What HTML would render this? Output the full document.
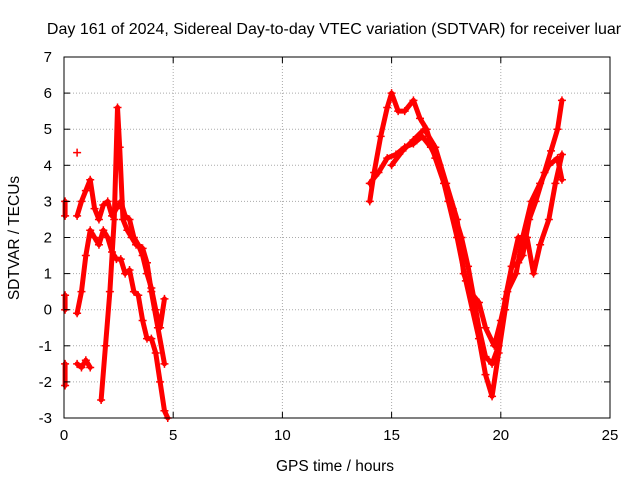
<!DOCTYPE html>
<html><head><meta charset="utf-8"><style>
body{margin:0;background:#fff}
svg{display:block;font-family:"Liberation Sans",sans-serif}
</style></head><body>
<svg id="chart" width="640" height="480">
<text x="334" y="34" text-anchor="middle" font-size="16">Day 161 of 2024, Sidereal Day-to-day VTEC variation (SDTVAR) for receiver luar</text>
<text x="335" y="471" text-anchor="middle" font-size="15.5">GPS time / hours</text>
<text transform="translate(19,238) rotate(-90)" text-anchor="middle" font-size="15.5">SDTVAR / TECUs</text>
<g id="grid"></g><g id="series"></g><g id="axes"></g>
</svg>
<script>
const xTicks=[0,5,10,15,20,25];
const yTicks=[-3,-2,-1,0,1,2,3,4,5,6,7];
const traceA=[[0.6,2.6],[0.8,3.0],[1.0,3.3],[1.2,3.6],[1.4,2.8],[1.6,2.5],[1.8,2.9],[2.0,3.0],[2.2,2.6],[2.4,2.8],[2.6,3.0],[2.8,2.6],[3.0,2.5],[3.2,2.0],[3.4,1.8],[3.6,1.5],[3.8,1.0],[4.0,0.6],[4.2,0.0],[4.4,-0.5],[4.6,0.3]];
const traceB=[[0.6,-0.1],[0.8,0.5],[1.0,1.5],[1.2,2.2],[1.4,2.0],[1.6,1.8],[1.8,2.2],[2.0,2.0],[2.2,1.6],[2.4,1.4],[2.6,1.4],[2.8,1.0],[3.0,1.1],[3.2,0.5],[3.4,0.4],[3.6,-0.3],[3.8,-0.8],[4.0,-0.8],[4.2,-1.2],[4.4,-2.0],[4.6,-2.8],[4.75,-3.0]];
const traceC=[[1.7,-2.5],[1.9,-1.0],[2.1,0.5],[2.3,2.5],[2.45,5.6],[2.55,4.5],[2.7,2.5],[2.9,2.2],[3.1,2.0],[3.3,1.8],[3.6,1.7],[3.8,1.3],[4.0,0.5],[4.3,-0.5],[4.6,-1.5]];
const traceZ1=[[0.05,3.0],[0.05,2.6]];
const traceZ2=[[0.05,0.4],[0.05,0.0]];
const traceZ3=[[0.05,-1.5],[0.05,-2.1]];
const traceLow=[[0.6,-1.5],[0.8,-1.6],[1.0,-1.4],[1.2,-1.6]];
const traceDot=[[0.6,4.35]];
const traceD=[[14.0,3.0],[14.2,3.8],[14.5,4.8],[14.8,5.6],[15.0,6.0],[15.3,5.5],[15.6,5.5],[16.0,5.8],[16.3,5.3],[16.6,5.0],[17.0,4.2],[17.4,3.5],[17.8,2.8],[18.2,2.0],[18.5,1.2],[18.8,0.2],[19.0,-0.5],[19.3,-1.3],[19.6,-1.5],[19.9,-1.0],[20.2,0.3],[20.5,1.2],[20.8,1.3],[21.0,1.5],[21.3,2.5],[21.6,3.0],[22.0,3.8],[22.3,4.4],[22.6,5.0],[22.8,5.8]];
const traceE=[[14.0,3.5],[14.4,3.8],[14.8,4.2],[15.2,4.3],[15.6,4.5],[16.0,4.6],[16.4,4.8],[16.8,4.5],[17.2,4.0],[17.6,3.0],[18.0,2.0],[18.4,0.8],[18.7,0.0],[19.0,-0.8],[19.3,-1.8],[19.6,-2.4],[19.9,-1.2],[20.2,0.0],[20.5,1.2],[20.8,2.0],[21.2,2.0],[21.5,1.0],[21.8,1.8],[22.2,2.5],[22.5,3.5],[22.8,4.3]];
const traceF=[[15.0,4.0],[15.5,4.4],[16.0,4.7],[16.5,5.0],[17.0,4.5],[17.5,3.5],[18.0,2.5],[18.3,1.0],[18.6,0.5],[19.0,0.2],[19.3,-0.5],[19.7,-1.0],[20.0,-0.3],[20.3,0.5],[20.7,1.0],[21.0,2.0],[21.4,3.0],[21.8,3.5],[22.2,4.0],[22.6,4.2],[22.8,3.6]];
const traces=[traceA,traceB,traceC,traceZ1,traceZ2,traceZ3,traceLow,traceDot,traceD,traceE,traceF];

const X0=64,X1=610,Y0=418,Y1=57;
const xs=v=>X0+(v-0)/25*(X1-X0);
const ys=v=>Y0-(v+3)/10*(Y0-Y1);
const NS='http://www.w3.org/2000/svg';
function mk(t,a,p){const e=document.createElementNS(NS,t);for(const k in a)e.setAttribute(k,a[k]);p.appendChild(e);return e;}
const grid=document.getElementById('grid'),axes=document.getElementById('axes'),ser=document.getElementById('series');
mk('rect',{x:X0,y:Y1,width:X1-X0,height:Y0-Y1,fill:'none',stroke:'#000','stroke-width':1},axes);
xTicks.forEach(t=>{const x=xs(t);
 if(t>0&&t<25){const g=mk('line',{x1:x,x2:x,y1:Y0,y2:Y1,stroke:'#aaa','stroke-dasharray':'1,2'},grid);
 }
 mk('line',{x1:x,x2:x,y1:Y0,y2:Y0-6,stroke:'#000'},axes);mk('line',{x1:x,x2:x,y1:Y1,y2:Y1+6,stroke:'#000'},axes);
 const l=mk('text',{x:x,y:Y0+22,'text-anchor':'middle','font-size':15},axes);l.textContent=t;
 });
yTicks.forEach(t=>{const y=ys(t);
 if(t>-3&&t<7){const g=mk('line',{x1:X0,x2:X1,y1:y,y2:y,stroke:'#aaa','stroke-dasharray':'1,2'},grid);
 }
 mk('line',{x1:X0,x2:X0+6,y1:y,y2:y,stroke:'#000'},axes);mk('line',{x1:X1,x2:X1-6,y1:y,y2:y,stroke:'#000'},axes);
 const l=mk('text',{x:52,y:y+5,'text-anchor':'end','font-size':15},axes);l.textContent=t;
 });
traces.forEach(tr=>{
 const g=mk('g',{},ser);
 
 
 if(tr.length>1)mk('polyline',{points:tr.map(p=>xs(p[0])+','+ys(p[1])).join(' '),fill:'none',stroke:'#f00','stroke-width':5,'stroke-linejoin':'round','stroke-linecap':'round'},g);
 tr.forEach(p=>{const x=xs(p[0]),y=ys(p[1]);
  const m=mk('path',{d:`M${x-4},${y}H${x+4}M${x},${y-4}V${y+4}`,stroke:'#f00','stroke-width':1.5},g);
  });
});
</script>
</body></html>
